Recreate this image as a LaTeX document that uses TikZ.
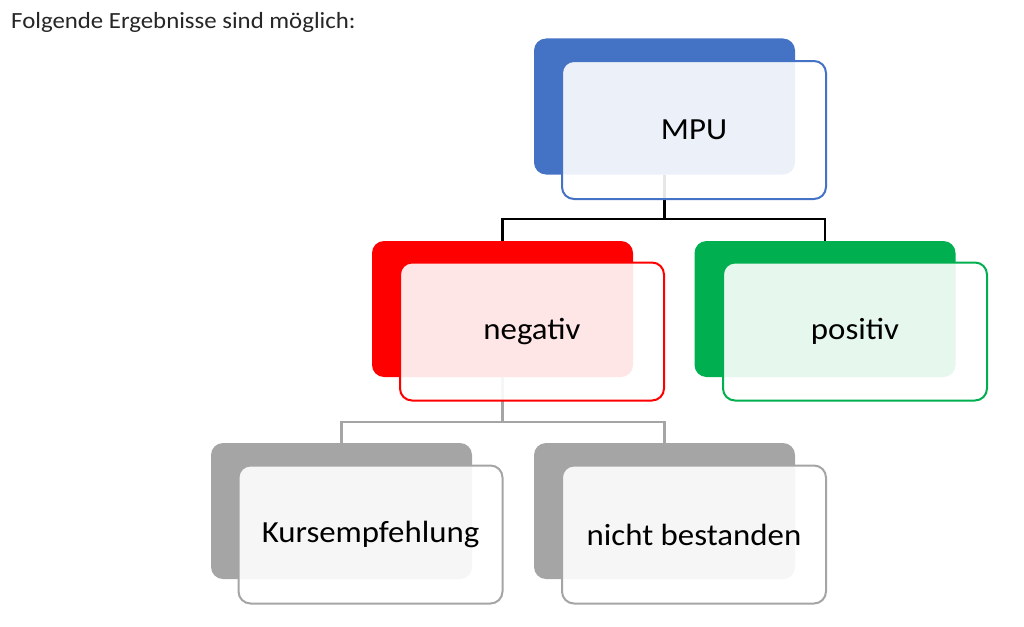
\documentclass[tikz,border=0pt]{standalone}
\usepackage{fontspec}
\setmainfont{Carlito}[FakeStretch=1.07]
\usepackage{xcolor}
\usetikzlibrary{positioning}
\definecolor{mpublue}{HTML}{4472C4}
\definecolor{negred}{HTML}{FF0000}
\definecolor{posgreen}{HTML}{00B050}
\definecolor{resgray}{HTML}{A5A5A5}
\tikzset{
  backbox/.style={draw=none,fill=#1,rounded corners=12pt,minimum width=261pt,minimum height=136pt,inner sep=0pt},
  frontbox/.style={draw=#1,line width=2pt,fill=white,fill opacity=.9,text opacity=1,rounded corners=12pt,
    minimum width=264pt,minimum height=138pt,inner sep=0pt,font=\fontsize{30.7}{36}\selectfont},
  tree/.style={line width=2.2pt,#1}
}

\begin{document}
\begin{tikzpicture}[x=1pt,y=-1pt]
  \useasboundingbox (0,0) rectangle (1024,626);
  \node[anchor=base west,inner sep=0pt,text=black!85,font=\fontsize{23.2}{28}\selectfont] (title) at (11,28.5) {Folgende Ergebnisse sind möglich:};
  % back boxes
  \node[backbox=mpublue] (mpuB) at (664.5,106.5) {};
  \node[backbox=negred] (negB) at (502.5,309) {};
  \node[backbox=posgreen] (posB) at (825,309) {};
  \node[backbox=resgray] (kursB) at (341.5,511) {};
  \node[backbox=resgray] (nichtB) at (664.5,511) {};
  % connectors
  \draw[tree=black] (mpuB.south) -- ++(0,44) -| (negB.north);
  \draw[tree=black] (mpuB.south) ++(0,44) -| (posB.north);
  \draw[tree=resgray] (negB.south) -- ++(0,45) -| (kursB.north);
  \draw[tree=resgray] (negB.south) ++(0,45) -| (nichtB.north);
  % front boxes
  \node[frontbox=mpublue] (mpu) at (694,130) {MPU};
  \node[frontbox=negred] (neg) at (532,331.5) {negativ};
  \node[frontbox=posgreen] (pos) at (855,331.5) {positiv};
  \node[frontbox=resgray] (kurs) at (370.5,534.5) {Kursempfehlung};
  \node[frontbox=resgray] (nicht) at (694,534.5) {nicht bestanden};
\end{tikzpicture}
\end{document}
